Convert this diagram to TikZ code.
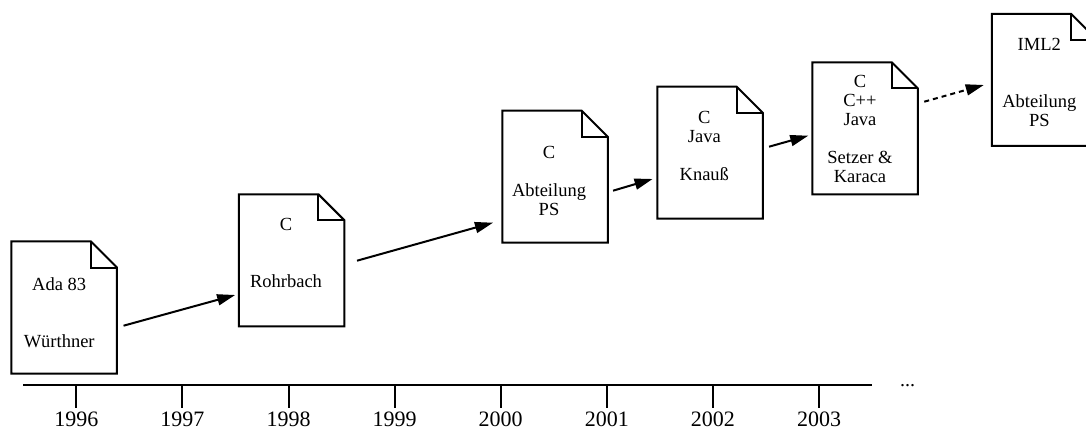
\documentclass[tikz,border=0pt]{standalone}
\usepackage{fontspec}
\setmainfont{Liberation Serif}
\usetikzlibrary{arrows.meta}

\begin{document}
\begin{tikzpicture}[x=1pt,y=-1pt,
  docbox/.style={rectangle, minimum width=105.5pt, minimum height=132pt,
    inner sep=0pt, outer sep=0pt},
  docline/.style={line width=2pt, line join=miter},
  doctext/.style={anchor=north, inner sep=0pt, align=center,
    font=\fontsize{18.5}{19}\selectfont},
  flow/.style={line width=2pt, -{Triangle[length=18pt,width=11pt]}},
  axis/.style={line width=2pt},
  year/.style={anchor=base, inner sep=0pt, font=\fontsize{22}{24}\selectfont}
]
\clip (0,0) rectangle (1086,430);

% document boxes
\node[docbox] (b1) at (64.2,307.5) {};
\node[docbox] (b2) at (291.7,260.3) {};
\node[docbox] (b3) at (555,176.7) {};
\node[docbox] (b4) at (710,152.7) {};
\node[docbox] (b5) at (865,128.3) {};
\node[docbox] (b6) at (1044.5,80) {};

% outlines with dog-eared corner
\foreach \n in {b1,b2,b3,b4,b5,b6}{
  \draw[docline] (\n.north west) -- ([xshift=-26pt]\n.north east)
    -- ([yshift=-26pt]\n.north east) -- (\n.south east)
    -- (\n.south west) -- cycle;
  \draw[docline] ([xshift=-26pt]\n.north east) |- ([yshift=-26pt]\n.north east);
}

% box contents
\node[doctext] (t1) at ([xshift=-5pt,yshift=-35.5pt]b1.north) {Ada 83\\[38pt]Würthner};
\node[doctext] (t2) at ([xshift=-5.7pt,yshift=-23.5pt]b2.north) {C\\[38pt]Rohrbach};
\node[doctext] (t3) at ([xshift=-6pt,yshift=-35.5pt]b3.north) {C\\[19pt]Abteilung\\PS};
\node[doctext] (t4) at ([xshift=-5.7pt,yshift=-24pt]b4.north) {C\\Java\\[19pt]Knauß};
\node[doctext] (t5) at ([xshift=-5pt,yshift=-12.5pt]b5.north) {C\\C++\\Java\\[19pt]Setzer \&\\Karaca};
\node[doctext] (t6) at ([xshift=-5.2pt,yshift=-24pt]b6.north) {IML2\\[38pt]Abteilung\\PS};

% connectors between the documents
\draw[flow] ([xshift=6.6pt,yshift=-18.2pt]b1.east) -- ([xshift=-3.8pt,yshift=-34.7pt]b2.west);
\draw[flow] ([xshift=12.6pt,yshift=-0.4pt]b2.east) -- ([xshift=-9.3pt,yshift=-46pt]b3.west);
\draw[flow] ([xshift=5.3pt,yshift=-14pt]b3.east) -- ([xshift=-4.7pt,yshift=-26.3pt]b4.west);
\draw[flow] ([xshift=6.3pt,yshift=6pt]b4.east) -- ([xshift=-4pt,yshift=-7.4pt]b5.west);
\draw[flow, dash pattern=on 5pt off 4pt] ([xshift=6.5pt,yshift=26.6pt]b5.east) -- ([xshift=-8pt,yshift=-5pt]b6.west);

% time axis
\coordinate (axl) at (23.3,385);
\coordinate (axr) at (871.7,385);
\draw[axis] (axl) -- (axr);
\foreach \yr [count=\i from 0] in {1996,...,2003}{
  \coordinate (tick\yr) at (76.3+106.1*\i,385);
  \draw[axis] (tick\yr) -- ++(0,23.3);
  \node[year] (y\yr) at (76.3+106.1*\i,426.5) {\yr};
}
\node[anchor=base west, inner sep=0pt, font=\fontsize{20}{22}\selectfont] (more) at (900,386) {...};
\end{tikzpicture}
\end{document}
